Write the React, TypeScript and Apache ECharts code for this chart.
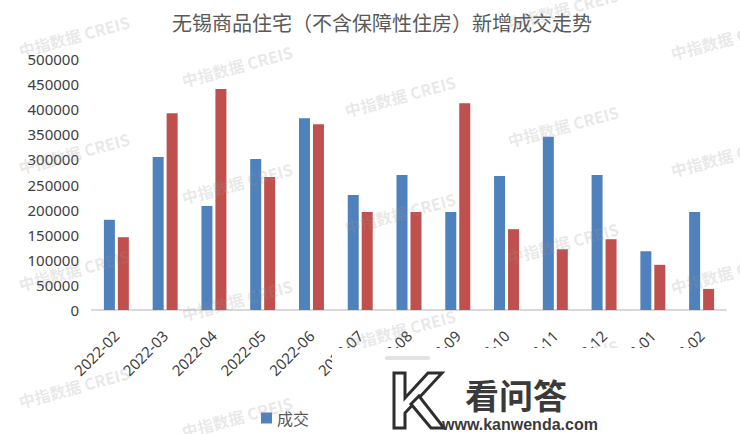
import React, { useEffect, useRef } from "react";
import * as echarts from "echarts";

const categories = [
  "2022-02", "2022-03", "2022-04", "2022-05", "2022-06", "2022-07", "2022-08",
  "2022-09", "2022-10", "2022-11", "2022-12", "2023-01", "2023-02",
];
const dealValues = [
  180000, 305000, 207000, 301000, 382000, 229000, 269000,
  195000, 267000, 345000, 269000, 117000, 195000,
];
const newSupplyValues = [
  145000, 392000, 440000, 265000, 370000, 195000, 195000,
  412000, 161000, 121000, 141000, 90000, 42000,
];
const titleText = "无锡商品住宅（不含保障性住房）新增成交走势";
const watermarkText = "中指数据 CREIS";
const logoText = "看问答";
const logoUrl = "www.kanwenda.com";

export default function App() {
  const ref = useRef<HTMLDivElement>(null);

  useEffect(() => {
    if (!ref.current) return;
    const chart = echarts.init(ref.current, undefined, { renderer: "svg" });

    const marks: any[] = [];
    for (let i = 0; i < 5; i++) {
      for (let j = -1; j < 5; j++) {
        const x = 74 + 163 * i;
        const y = 36 + 30 * i + 117 * j;
        if (y < -30 || y > 470) continue;
        marks.push({
          type: "text",
          x,
          y,
          rotation: (15 * Math.PI) / 180,
          z: 50,
          silent: true,
          style: {
            text: watermarkText,
            fill: "rgba(150,150,150,0.22)",
            font: 'bold 16px "Noto Sans CJK SC"',
            align: "center",
            verticalAlign: "middle",
          },
        });
      }
    }

    const logo: any[] = [
      {
        type: "rect",
        z: 100,
        silent: true,
        shape: { x: 332, y: 348, width: 408, height: 86 },
        style: { fill: "#ffffff" },
      },
      {
        type: "rect",
        z: 101,
        silent: true,
        shape: { x: 385, y: 356, width: 45, height: 4, r: 2 },
        style: { fill: "rgba(200,200,200,0.5)" },
      },
      {
        type: "polygon",
        z: 102,
        silent: true,
        shape: {
          points: [
            [394, 373], [405, 373], [405, 398], [428, 373], [442, 373],
            [405, 413], [405, 428], [394, 428],
          ],
        },
        style: { fill: "#ffffff", stroke: "#2e2e2e", lineWidth: 3 },
      },
      {
        type: "polygon",
        z: 102,
        silent: true,
        shape: {
          points: [[411, 404], [419, 396], [444, 428], [431, 428]],
        },
        style: { fill: "#ffffff", stroke: "#2e2e2e", lineWidth: 3 },
      },
      {
        type: "text",
        z: 102,
        silent: true,
        x: 465,
        y: 394,
        style: {
          text: logoText,
          fill: "#3a3a3a",
          font: 'bold 34px "Noto Sans CJK SC"',
          align: "left",
          verticalAlign: "middle",
        },
      },
      {
        type: "text",
        z: 102,
        silent: true,
        x: 442,
        y: 424,
        style: {
          text: logoUrl,
          fill: "#3a3a3a",
          font: 'bold 16px "Liberation Sans"',
          align: "left",
          verticalAlign: "middle",
        },
      },
    ];

    chart.setOption({
      animation: false,
      backgroundColor: "#ffffff",
      title: {
        text: titleText,
        left: 167,
        top: 7,
        textStyle: {
          fontSize: 20,
          fontWeight: "normal",
          color: "#595959",
          fontFamily: '"Noto Sans CJK SC"',
        },
      },
      legend: {
        data: ["成交"],
        left: 256,
        top: 405,
        itemWidth: 11,
        itemHeight: 11,
        icon: "rect",
        textStyle: {
          fontSize: 16,
          color: "#595959",
          fontFamily: '"Noto Sans CJK SC"',
        },
      },
      grid: { left: 92, right: 14, top: 59, bottom: 124 },
      xAxis: {
        type: "category",
        data: categories,
        axisLine: { lineStyle: { color: "#d9d9d9", width: 2 } },
        axisTick: { show: false },
        axisLabel: {
          rotate: 45,
          margin: 23,
          fontSize: 15,
          color: "#404040",
          fontFamily: '"Noto Sans"',
          interval: 0,
        },
      },
      yAxis: {
        type: "value",
        min: 0,
        max: 500000,
        interval: 50000,
        splitLine: { show: false },
        axisLine: { show: false },
        axisTick: { show: false },
        axisLabel: {
          margin: 13,
          fontSize: 15,
          color: "#404040",
          fontFamily: '"Noto Sans"',
          formatter: (v: number) => String(v),
        },
      },
      series: [
        {
          name: "成交",
          type: "bar",
          data: dealValues,
          barWidth: 11,
          barGap: "27%",
          itemStyle: { color: "#4f81bd" },
        },
        {
          name: "新增",
          type: "bar",
          data: newSupplyValues,
          barWidth: 11,
          itemStyle: { color: "#c0504d" },
        },
      ],
      graphic: [...marks, ...logo],
    });

    return () => chart.dispose();
  }, []);

  return (
    <div
      ref={ref}
      style={{ position: "absolute", left: 0, top: 0, width: 740, height: 434 }}
    />
  );
}
